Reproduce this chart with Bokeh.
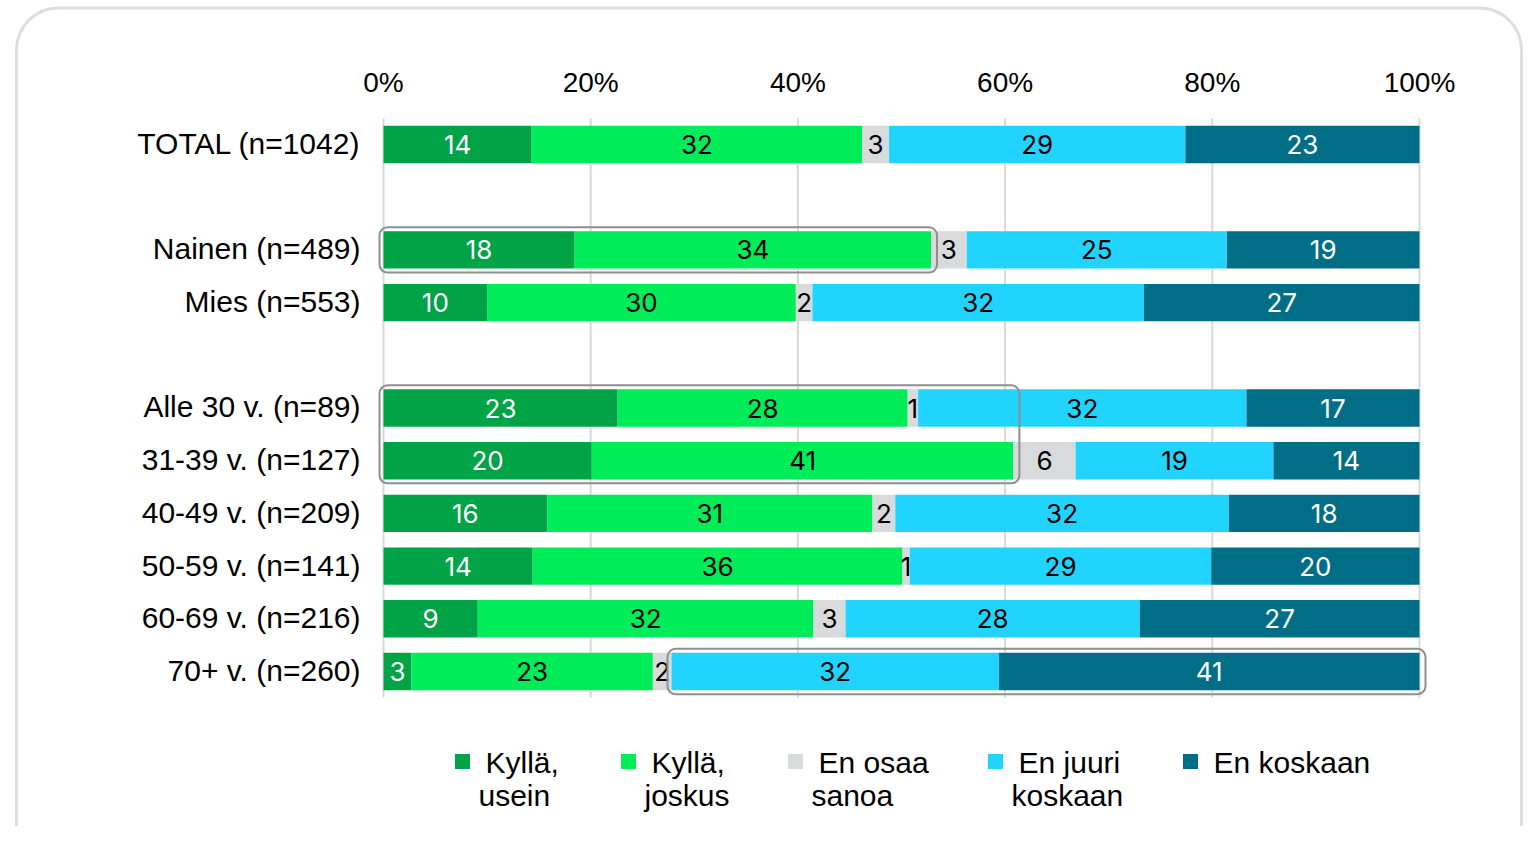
from bokeh.plotting import figure
from bokeh.models import Range1d, BoxAnnotation, ColumnDataSource
from bokeh.core.properties import value
from bokeh.embed import file_html
from bokeh.resources import INLINE

# ---------------- data ----------------
categories = ["TOTAL (n=1042)", "Nainen (n=489)", "Mies (n=553)",
              "Alle 30 v. (n=89)", "31-39 v. (n=127)", "40-49 v. (n=209)",
              "50-59 v. (n=141)", "60-69 v. (n=216)", "70+ v. (n=260)"]
group_of_row = [0, 1, 1, 2, 2, 2, 2, 2, 2]   # TOTAL / gender / age groups
series = ["Kyllä,\nusein", "Kyllä,\njoskus", "En osaa\nsanoa", "En juuri\nkoskaan", "En koskaan"]
kylla_usein  = [14.3, 18.45, 10.0, 22.6, 20.1, 15.8, 14.4,  9.1,  2.7]
kylla_joskus = [31.9, 34.4, 29.8, 28.0, 40.7, 31.4, 35.7, 32.4, 23.3]
en_osaa      = [ 2.6,  3.45, 1.6,  1.0,  6.0,  2.2,  0.7,  3.1,  1.8]
en_juuri     = [28.6, 25.1, 32.0, 31.7, 19.1, 32.2, 29.1, 28.4, 31.6]
en_koskaan   = [22.6, 18.6, 26.6, 16.7, 14.1, 18.4, 20.1, 27.0, 40.6]
x_ticks = [0, 20, 40, 60, 80, 100]
x_tick_labels = ["0%", "20%", "40%", "60%", "80%", "100%"]
# highlighted blocks: (rows, first series, last series)
highlights = [([1], 0, 1), ([3, 4], 0, 1), ([8], 3, 4)]

# ---------------- styling / layout ----------------
colors = ["#00A346", "#00EC59", "#D9DADB", "#21D4FE", "#006E87"]
label_colors = ["#FFFFFF", "#000000", "#000000", "#000000", "#FFFFFF"]
CAT_FONT = "Liberation Sans"
NUM_FONT = "Inter"
W, H = 1524, 826
X0_PX, PX_PER_PCT = 383.0, 10.36      # pixel of 0 %, pixels per percent
Y0_PX, PX_PER_SLOT = 144.0, 52.7      # pixel of first row centre, pixels per row slot


def px2x(px):
    return (px - X0_PX) / PX_PER_PCT


def px2y(py):
    return (py - Y0_PX) / PX_PER_SLOT


all_series = [kylla_usein, kylla_joskus, en_osaa, en_juuri, en_koskaan]

# slot positions with one empty slot between groups
slots = []
cur = 0
for i, g in enumerate(group_of_row):
    if i > 0 and g != group_of_row[i - 1]:
        cur += 1
    slots.append(cur)
    cur += 1
last_slot = slots[-1]

p = figure(width=W, height=H, output_backend="svg", toolbar_location=None,
           x_range=Range1d(px2x(0), px2x(W)), y_range=Range1d(px2y(H), px2y(0)),
           x_axis_type=None, y_axis_type=None,
           min_border=0, min_border_left=0, min_border_right=0,
           min_border_top=0, min_border_bottom=0)
p.outline_line_color = None
p.background_fill_color = "white"
p.border_fill_color = "white"
p.grid.visible = False

# rounded outer frame
p.add_layout(BoxAnnotation(left=px2x(16), right=px2x(1521), top=px2y(7.5), bottom=px2y(1000),
                           fill_color=None, fill_alpha=0, line_color="#DEDEDE", line_alpha=1,
                           line_width=3, border_radius=42, level="underlay"))

# vertical gridlines over the bar area
p.segment(x0=x_ticks, x1=x_ticks, y0=[-0.5] * len(x_ticks), y1=[last_slot + 0.5] * len(x_ticks),
          line_color="#D9D9D9", line_width=2)

# percentage tick labels on top
p.text(x=x_ticks, y=[px2y(82)] * len(x_ticks), text=x_tick_labels,
       text_align="center", text_baseline="middle", text_font=value(CAT_FONT),
       text_font_size="28px", text_color="#000000")

# category labels
p.text(x=[px2x(360)] * len(categories), y=[s - 0.02 for s in slots], text=categories,
       text_align="right", text_baseline="middle", text_font=value(CAT_FONT),
       text_font_size="30px", text_color="#000000")

# stacked bars
bar_h = 0.71
lefts = [0.0] * len(categories)
starts, ends = [], []
for s_i, vals in enumerate(all_series):
    rights = [l + v for l, v in zip(lefts, vals)]
    starts.append(lefts)
    ends.append(rights)
    src = ColumnDataSource(dict(
        y=slots, left=lefts, right=rights,
        mid=[(l + r) / 2 for l, r in zip(lefts, rights)],
        lab=[str(int(v + 0.5)) for v in vals]))
    p.hbar(y="y", left="left", right="right", height=bar_h, source=src,
           fill_color=colors[s_i], line_color=None)
    p.text(x="mid", y="y", text="lab", source=src, text_align="center",
           text_baseline="middle", text_font=value(NUM_FONT),
           text_font_size="26px", text_color=label_colors[s_i])
    lefts = rights

# highlight boxes
pad_l, pad_r, pad_v = 4 / PX_PER_PCT, 6 / PX_PER_PCT, 0.43
for rows, a, b in highlights:
    p.add_layout(BoxAnnotation(
        left=min(starts[a][r] for r in rows) - pad_l,
        right=max(ends[b][r] for r in rows) + pad_r,
        top=min(slots[r] for r in rows) - pad_v,
        bottom=max(slots[r] for r in rows) + pad_v,
        fill_color=None, fill_alpha=0, line_color="#8F8F8F", line_alpha=1,
        line_width=2, border_radius=8))

# legend (below the bars); wrapped labels, second line slightly to the left
leg_sq_px = [462, 628, 795, 995, 1190]
p.scatter(x=[px2x(v) for v in leg_sq_px], y=[px2y(761)] * len(series), marker="square",
          size=15, fill_color=colors, line_color=None)
first_lines = [s.split("\n")[0] for s in series]
p.text(x=[px2x(v + 23) for v in leg_sq_px], y=[px2y(762)] * len(series), text=first_lines,
       text_align="left", text_baseline="middle", text_font=value(CAT_FONT),
       text_font_size="30px", text_color="#000000")
second = [(px2x(v + 16), s.split("\n")[1]) for v, s in zip(leg_sq_px, series) if "\n" in s]
p.text(x=[a for a, _ in second], y=[px2y(795)] * len(second), text=[b for _, b in second],
       text_align="left", text_baseline="middle", text_font=value(CAT_FONT),
       text_font_size="30px", text_color="#000000")

open("out.html", "w").write(file_html(p, INLINE))
